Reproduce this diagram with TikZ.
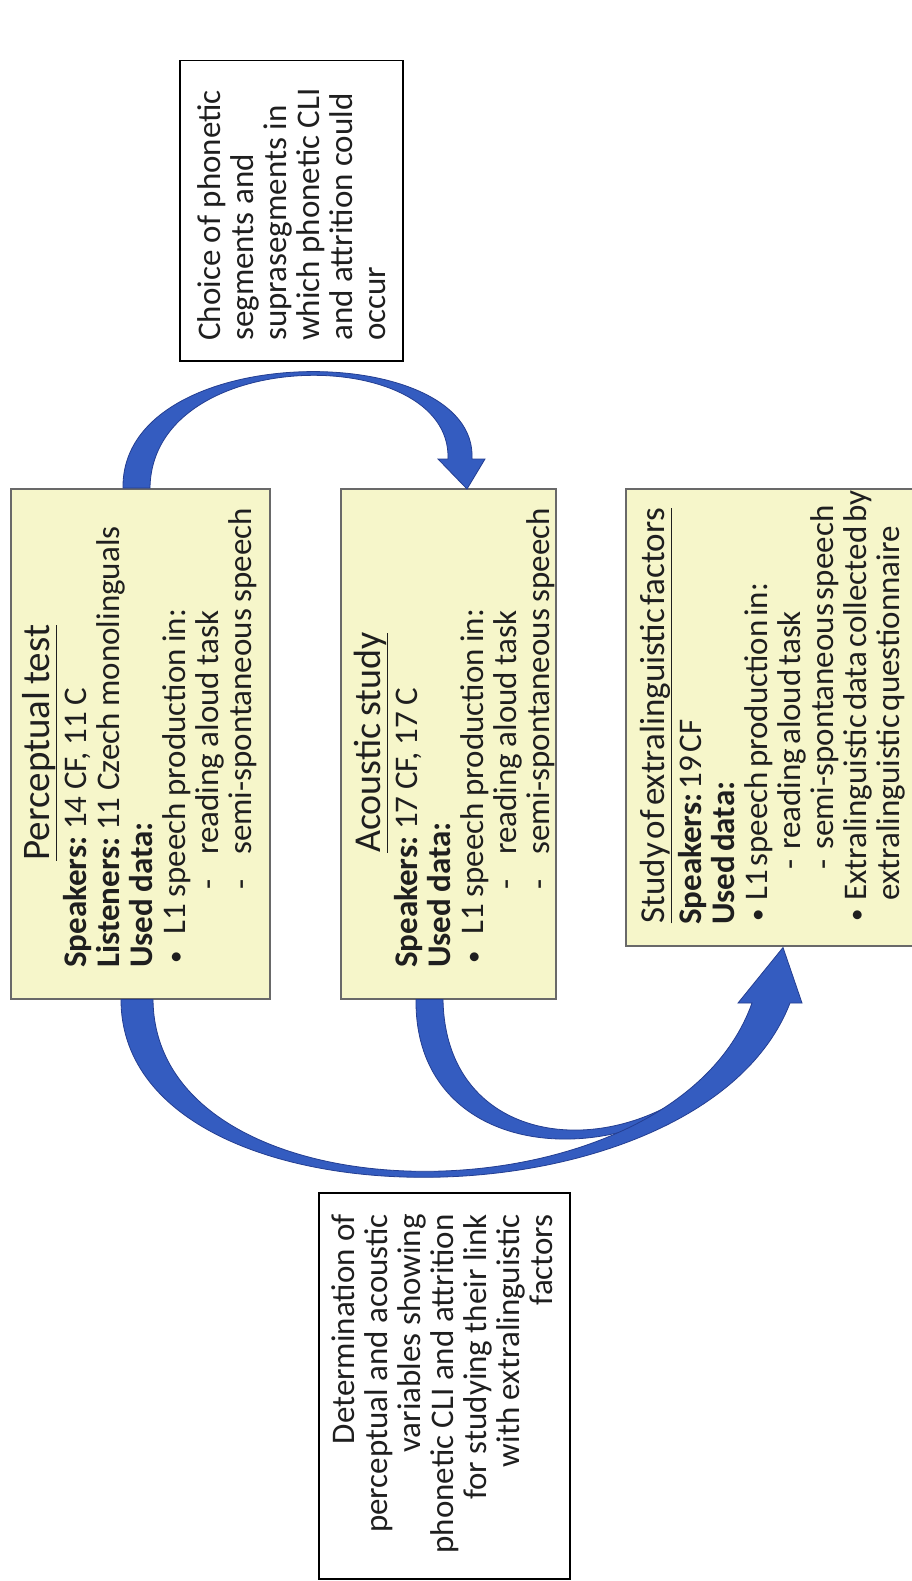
\documentclass[tikz,border=0pt]{standalone}
\usepackage{fontspec}
\setmainfont{Carlito}
\usetikzlibrary{calc}
\definecolor{boxyellow}{RGB}{246,246,202}
\definecolor{boxedge}{RGB}{105,105,105}
\definecolor{arrowblue}{RGB}{52,92,192}
\definecolor{arrowedge}{RGB}{36,62,145}
\newcommand\bodyfont{\fontsize{33}{33}\selectfont}
\newcommand\tightsp[1]{\frenchspacing\spaceskip=#1em\relax}
\newcommand\normsp{\frenchspacing\spaceskip=0.226em\relax}
\newcommand\boxtitle[3]{\makebox[#1][c]{\fontsize{#2}{44}\selectfont\strut\underline{#3}}}
\newcommand\bul{\raisebox{2pt}{\fontsize{25}{25}\selectfont •}}
\begin{document}
\begin{tikzpicture}[x=1pt,y=-1pt,
  study/.style={draw=boxedge, fill=boxyellow, line width=1.5pt, inner sep=0pt, anchor=north west},
  note/.style={draw=black, fill=white, line width=1.5pt, inner sep=0pt, anchor=north west},
  vtext/.style={rotate=90, inner sep=0pt, font=\bodyfont, text=black!88},
  studytext/.style={vtext, anchor=north west, align=left},
  flow/.style={fill=arrowblue, draw=arrowedge, line width=0.8pt}]
\useasboundingbox (0,0) rectangle (911,1581);
\fill[white] (0,0) rectangle (911,1581);

% boxes
\node[study, minimum width=259pt, minimum height=510pt] (p) at (10,488) {};
\node[study, minimum width=215pt, minimum height=510pt] (a) at (340,488) {};
\node[study, minimum width=300pt, minimum height=457pt] (s) at (625,488) {};
\node[note, minimum width=223pt, minimum height=300pt] (c) at (179,60) {};
\node[note, minimum width=251pt, minimum height=386pt] (d) at (318,1192) {};

% texts
\node[studytext, text width=490pt] (pt) at (18,968) {\tightsp{0.2}%
\boxtitle{450pt}{39}{Perceptual test}\\
\textbf{Speakers:} 14 CF, 11 C\\
\textbf{Listeners:} 11 Czech monolinguals\\
\textbf{Used data:}\\
\makebox[33pt][l]{\hspace{4pt}\bul}L1 speech production in:\\
\hspace*{78pt}\makebox[35pt][l]{-}reading aloud task\\
\hspace*{78pt}\makebox[35pt][l]{-}semi-spontaneous speech};

\node[studytext, text width=490pt] (at) at (349,968) {\tightsp{0.2}%
\boxtitle{450pt}{38}{Acoustic study}\\
\textbf{Speakers:} 17 CF, 17 C\\
\textbf{Used data:}\\
\makebox[33pt][l]{\hspace{4pt}\bul}L1 speech production in:\\
\hspace*{78pt}\makebox[35pt][l]{-}reading aloud task\\
\hspace*{78pt}\makebox[35pt][l]{-}semi-spontaneous speech};

\node[studytext, text width=470pt] (st) at (633,925) {\tightsp{0.12}%
\boxtitle{418pt}{35}{Study of extralinguistic factors}\\
\textbf{Speakers:} 19 CF\\
\textbf{Used data:}\\
\makebox[24pt][l]{\hspace{3pt}\bul}L1 speech production in:\\
\hspace*{55pt}\makebox[20pt][l]{-}reading aloud task\\
\hspace*{55pt}\makebox[20pt][l]{-}semi-spontaneous speech\\
\makebox[24pt][l]{\hspace{3pt}\bul}Extralinguistic data collected by\\
\hspace*{24pt}extralinguistic questionnaire};

\node[vtext, anchor=north west, text width=280pt, align=left] (ct) at (197.6,341) {\normsp
\strut Choice of phonetic\\ segments and\\ suprasegments in\\ which phonetic CLI\\ and attrition could\\ occur};

\node[vtext, anchor=north east, text width=360pt, align=right] (dt) at (331.6,1214) {\normsp
\strut Determination of\\ perceptual and acoustic\\ variables showing\\ phonetic CLI and attrition\\ for studying their link\\ with extralinguistic\\ factors};

% arrows
\path[flow] ($(p.north west)+(113,0)$) .. controls (121,338) and (478,338) .. (472,459)
  -- (485,459) -- ($(a.north west)+(127,1)$) -- (438,459) -- (448,459)
  .. controls (452,343) and (152,343) .. ($(p.north west)+(140,0)$) -- cycle;

\path[flow] ($(a.south west)+(76,0)$) .. controls (414,1190) and (700,1180) .. (780,1003)
  -- (765,1003) .. controls (690,1168) and (446,1178) .. ($(a.south west)+(103,0)$) -- cycle;

\path[flow] ($(p.south west)+(111,0)$) .. controls (121,1236) and (700,1236) .. (790,1003)
  -- (802,1003) -- ($(s.south west)+(158,1)$) -- (738,1003) -- (752,1003)
  .. controls (672,1228) and (155,1228) .. ($(p.south west)+(143,0)$) -- cycle;
\end{tikzpicture}
\end{document}
